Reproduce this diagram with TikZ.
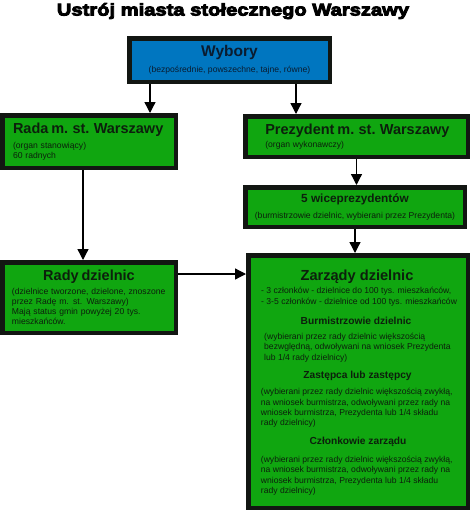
\documentclass[tikz,border=0pt]{standalone}
\usepackage{fontspec}
\setmainfont{Liberation Sans}
\newfontfamily\headfont{Liberation Sans Bold}[FakeStretch=1.2]
\newcommand\heavytext[1]{\special{pdf:literal direct 2 Tr 0.9 w}#1\special{pdf:literal direct 0 Tr}}
\usepackage{tikz}
\definecolor{wgreen}{RGB}{16,166,16}
\definecolor{wblue}{RGB}{0,118,192}
\definecolor{wborder}{RGB}{18,22,18}
\definecolor{wtext}{RGB}{12,32,12}
\definecolor{wnavy}{RGB}{10,28,48}
\usetikzlibrary{arrows.meta,calc}
\tikzset{
  organ/.style={draw=wborder, line width=4.5pt, fill=wgreen, text=wtext, inner sep=0pt, font=\fontsize{8.6}{10}\selectfont},
  link/.style={-{Triangle[length=11pt,width=11pt]}, line width=1.3pt, black},
  zinfo/.style={text=wtext, inner sep=0pt, align=left, anchor=north west, font=\fontsize{8.6}{10.4}\selectfont},
  zhead/.style={text=wtext, inner sep=0pt, anchor=base, font=\fontsize{10.2}{12}\selectfont\bfseries},
}

\begin{document}
\begin{tikzpicture}[x=1pt,y=-1pt]
  \path[use as bounding box, fill=white] (0,0) rectangle (470,512);

  %% Title
  \node[font=\headfont\fontsize{16.8}{20}\selectfont, anchor=base] (title) at (233,15.5) {\heavytext{Ustrój miasta stołecznego Warszawy}};

  %% Elections
  \node[organ, fill=wblue, text=wnavy, minimum width=200.5, minimum height=43.5, align=center] (wybory) at (229.5,60) {{\fontsize{15.5}{18}\selectfont\bfseries Wybory}\\[6.5pt](bezpośrednie, powszechne, tajne, równe)};

  %% City level
  \node[organ, minimum width=173.5, minimum height=52.5, text width=152, inner xsep=10.75, align=left] (rada) at (89,141.5) {\mbox{\fontsize{14.5}{17}\selectfont\bfseries Rada m. st. Warszawy}\\[5pt](organ stanowiący)\\60 radnych};
  \node[organ, minimum width=222.5, minimum height=40.5, text width=182.5, inner xsep=20, align=left] (prezydent) at (356.5,136.5) {\mbox{\fontsize{14.5}{17}\selectfont\bfseries Prezydent m. st. Warszawy}\\[2.5pt](organ wykonawczy)};
  \node[organ, minimum width=219.5, minimum height=39.5, align=center] (wice) at (355,207) {{\fontsize{11.8}{14}\selectfont\bfseries 5 wiceprezydentów}\\[5.5pt](burmistrzowie dzielnic, wybierani przez Prezydenta)};

  %% District level
  \node[organ, minimum width=173.5, minimum height=70.5, text width=154, inner xsep=9.75, align=left] (radydz) at (89,297.5) {\makebox[154pt][c]{\fontsize{14.5}{17}\selectfont\bfseries Rady dzielnic}\\[3.8pt](dzielnice tworzone, dzielone, znoszone\\przez Radę m. st. Warszawy)\\Mają status gmin powyżej 20 tys.\\mieszkańców.};
  \node[organ, minimum width=219.5, minimum height=252.5] (zarzady) at (358,381.5) {};

  %% District board contents
  \node[zhead, font=\fontsize{14.6}{17}\selectfont\bfseries] (zarztitle) at (357,280) {Zarządy dzielnic};
  \node[zinfo] (sklad) at (261,287.2) {- 3 członków - dzielnice do 100 tys. mieszkańców,\\- 3-5 członków - dzielnice od 100 tys. mieszkańców};
  \node[zhead] (burm) at (356,324.5) {Burmistrzowie dzielnic};
  \node[zinfo] (burmtxt) at (264,332.7) {(wybierani przez rady dzielnic większością\\bezwględną, odwoływani na wniosek Prezydenta\\lub 1/4 rady dzielnicy)};
  \node[zhead] (zast) at (357.5,378.5) {Zastępca lub zastępcy};
  \node[zinfo] (zasttxt) at (260.7,388.2) {(wybierani przez rady dzielnic większością zwykłą,\\na wniosek burmistrza, odwoływani przez rady na\\wniosek burmistrza, Prezydenta lub 1/4 składu\\rady dzielnicy)};
  \node[zhead] (czlon) at (358,444.7) {Członkowie zarządu};
  \node[zinfo] (czlontxt) at (260.7,455.7) {(wybierani przez rady dzielnic większością zwykłą,\\na wniosek burmistrza, odwoływani przez rady na\\wniosek burmistrza, Prezydenta lub 1/4 składu\\rady dzielnicy)};

  %% Arrows
  \draw[link] ($(wybory.south west)+(23,0)$) coordinate (w1) -- (w1 |- rada.north);
  \draw[link] ($(wybory.south east)+(-36,0)$) coordinate (w2) -- (w2 |- prezydent.north);
  \draw[link] (prezydent.south) -- (prezydent.south |- wice.north);
  \draw[link] (wice.south) -- (wice.south |- zarzady.north);
  \draw[link] ($(rada.south)+(-6,0)$) coordinate (r1) -- (r1 |- radydz.north);
  \draw[link] ($(radydz.north east)+(0,14)$) coordinate (r2) -- (r2 -| zarzady.west);
\end{tikzpicture}
\end{document}
